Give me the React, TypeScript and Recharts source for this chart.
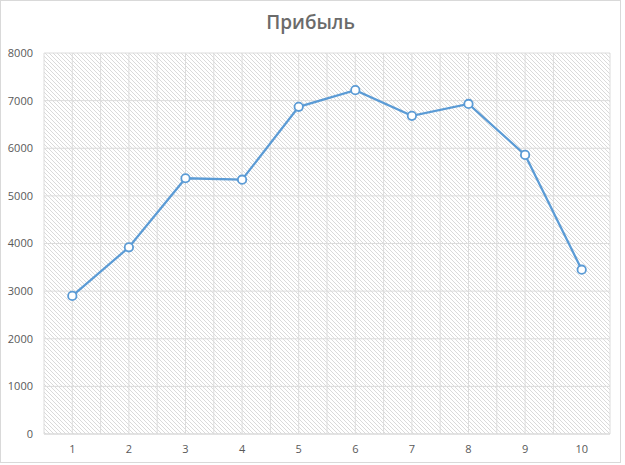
import React from "react";
import { LineChart, Line, XAxis, YAxis, CartesianGrid } from "recharts";

const categories = [1, 2, 3, 4, 5, 6, 7, 8, 9, 10];
const profit = [2900, 3920, 5370, 5340, 6870, 7220, 6680, 6930, 5860, 3450];
const yTicks = [0, 1000, 2000, 3000, 4000, 5000, 6000, 7000, 8000];
const gridXTicks = [0.5, 1, 1.5, 2, 2.5, 3, 3.5, 4, 4.5, 5, 5.5, 6, 6.5, 7, 7.5, 8, 8.5, 9, 9.5, 10, 10.5];
const title = "Прибыль";

const data = categories.map((c, i) => ({ x: c, profit: profit[i] }));

const W = 621;
const H = 463;

export default function App() {
  return (
    <div
      style={{
        position: "absolute",
        left: 0,
        top: 0,
        width: W,
        height: H,
        boxSizing: "border-box",
        border: "1px solid #d9d9d9",
        background: "#fff",
        fontFamily: "'Open Sans', 'Noto Sans', sans-serif",
      }}
    >
      <svg width={0} height={0} style={{ position: "absolute" }}>
        <defs>
          <pattern id="hatch" width={4} height={4} patternUnits="userSpaceOnUse">
            <rect width={4} height={4} fill="#ffffff" />
            <path d="M0,0 L4,4 M-1,3 L1,5 M3,-1 L5,1" stroke="#d6d6d6" strokeWidth={0.9} />
          </pattern>
        </defs>
      </svg>
      <div
        style={{
          position: "absolute",
          left: 0,
          width: W - 2,
          top: 8,
          textAlign: "center",
          fontSize: 19,
          fontWeight: 600,
          color: "#6b6b6b",
          lineHeight: "26px",
        }}
      >
        {title}
      </div>
      <div style={{ position: "absolute", left: -1, top: -1 }}>
        <LineChart
          width={W}
          height={H}
          data={data}
          margin={{ top: 53, right: 11, bottom: 0, left: 4 }}
        >
          <CartesianGrid
            xAxisId="grid"
            stroke="#dcdcdc"
            fill="url(#hatch)"
            fillOpacity={1}
            horizontalValues={yTicks}
          />
          <XAxis
            xAxisId="grid"
            dataKey="x"
            type="number"
            domain={[0.5, 10.5]}
            ticks={gridXTicks}
            hide
          />
          <XAxis
            dataKey="x"
            type="number"
            domain={[0.5, 10.5]}
            ticks={categories}
            interval={0}
            height={29}
            tickLine={false}
            tickSize={0}
            tickMargin={11}
            axisLine={{ stroke: "#d9d9d9" }}
            tick={{ fill: "#595959", fontSize: 11, fontFamily: "'Open Sans', sans-serif" }}
          />
          <YAxis
            domain={[0, 8000]}
            ticks={yTicks}
            width={40}
            axisLine={false}
            tickLine={false}
            tickSize={0}
            tickMargin={11}
            tick={{ fill: "#595959", fontSize: 11, fontFamily: "'Open Sans', sans-serif" }}
          />
          <Line
            dataKey="profit"
            stroke="#5b9bd5"
            strokeWidth={2.25}
            isAnimationActive={false}
            dot={{ r: 4.2, fill: "#ffffff", stroke: "#5b9bd5", strokeWidth: 1.8 }}
            activeDot={false}
          />
        </LineChart>
      </div>
    </div>
  );
}
